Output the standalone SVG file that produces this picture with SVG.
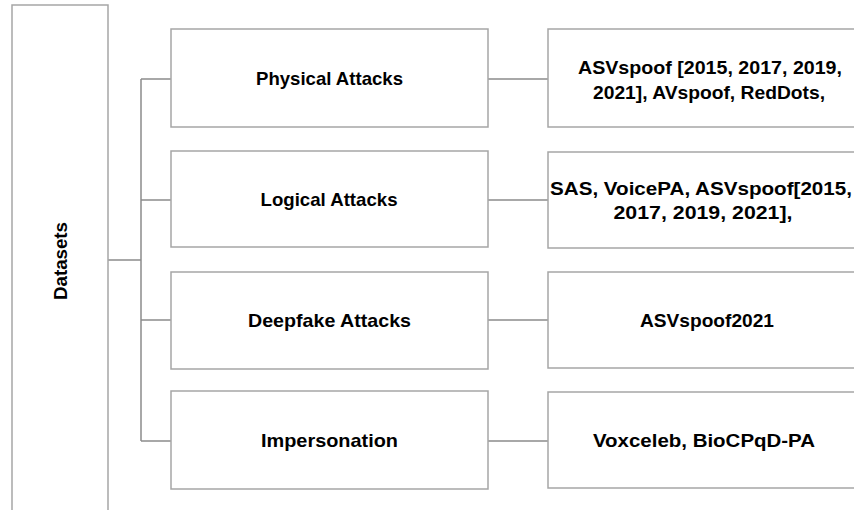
<svg xmlns="http://www.w3.org/2000/svg" width="854" height="510" viewBox="0 0 854 510">
<style>
.box{fill:#fff;stroke:#a6a6a6;stroke-width:1.5}
.ln{fill:none;stroke:#8c8c8c;stroke-width:1.5}
.t{font-family:"Liberation Sans",Arial,sans-serif;font-weight:bold;font-size:19px;fill:#000;text-anchor:middle}
</style>
<rect width="854" height="510" fill="#fff"/>
<g id="connectors">
<path class="ln" d="M108,260 H141 M141,79 V441 M141,79 H171 M141,200 H171 M141,320 H171 M141,441 H171"/>
<path class="ln" d="M488,79 H548 M488,200 H548 M488,320 H548 M488,441 H548"/>
</g>
<g id="datasets">
<rect class="box" x="12" y="5" width="96" height="520"/>
<text class="t" transform="translate(67,261) rotate(-90)" textLength="78" lengthAdjust="spacingAndGlyphs">Datasets</text>
</g>
<g id="physical">
<rect class="box" x="171" y="29" width="317" height="98"/>
<text class="t" x="329.5" y="85" textLength="147" lengthAdjust="spacingAndGlyphs">Physical Attacks</text>
</g>
<g id="logical">
<rect class="box" x="171" y="151" width="317" height="96"/>
<text class="t" x="329" y="206" textLength="137" lengthAdjust="spacingAndGlyphs">Logical Attacks</text>
</g>
<g id="deepfake">
<rect class="box" x="171" y="272" width="317" height="97"/>
<text class="t" x="329.5" y="327" textLength="163" lengthAdjust="spacingAndGlyphs">Deepfake Attacks</text>
</g>
<g id="impersonation">
<rect class="box" x="171" y="391" width="317" height="98"/>
<text class="t" x="329.5" y="447" textLength="137" lengthAdjust="spacingAndGlyphs">Impersonation</text>
</g>
<g id="ds-physical">
<rect class="box" x="548" y="29" width="330" height="98"/>
<text class="t" x="710" y="74" textLength="264" lengthAdjust="spacingAndGlyphs">ASVspoof [2015, 2017, 2019,</text>
<text class="t" x="709" y="99" textLength="232" lengthAdjust="spacingAndGlyphs">2021], AVspoof, RedDots,</text>
</g>
<g id="ds-logical">
<rect class="box" x="548" y="152" width="330" height="96"/>
<text class="t" x="701" y="195" textLength="302" lengthAdjust="spacingAndGlyphs">SAS, VoicePA, ASVspoof[2015,</text>
<text class="t" x="703" y="219" textLength="179" lengthAdjust="spacingAndGlyphs">2017, 2019, 2021],</text>
</g>
<g id="ds-deepfake">
<rect class="box" x="548" y="272" width="330" height="96"/>
<text class="t" x="707" y="327" textLength="134" lengthAdjust="spacingAndGlyphs">ASVspoof2021</text>
</g>
<g id="ds-impersonation">
<rect class="box" x="548" y="392" width="330" height="96"/>
<text class="t" x="704" y="447" textLength="222" lengthAdjust="spacingAndGlyphs">Voxceleb, BioCPqD-PA</text>
</g>
</svg>
